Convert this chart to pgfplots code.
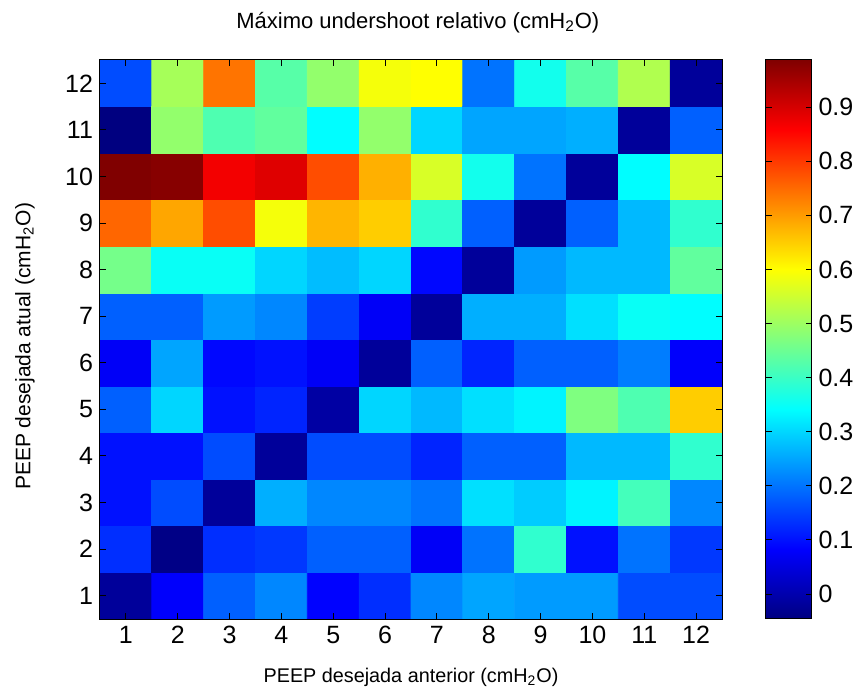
\documentclass[border=0pt]{standalone}
\usepackage{fontspec}
\setmainfont{Liberation Sans}
\usepackage{pgfplots}
\usepackage{pgfplotstable}
\pgfplotsset{compat=1.18}

\pgfplotstableread{
x y c
1 1 -0.02
2 1 0.08
3 1 0.18
4 1 0.22
5 1 0.085
6 1 0.13
7 1 0.22
8 1 0.25
9 1 0.24
10 1 0.24
11 1 0.16
12 1 0.16
1 2 0.13
2 2 -0.04
3 2 0.13
4 2 0.14
5 2 0.18
6 2 0.18
7 2 0.075
8 2 0.20
9 2 0.39
10 2 0.10
11 2 0.20
12 2 0.14
1 3 0.10
2 3 0.16
3 3 -0.02
4 3 0.26
5 3 0.22
6 3 0.22
7 3 0.20
8 3 0.31
9 3 0.29
10 3 0.33
11 3 0.41
12 3 0.22
1 4 0.10
2 4 0.10
3 4 0.16
4 4 -0.02
5 4 0.16
6 4 0.16
7 4 0.12
8 4 0.18
9 4 0.18
10 4 0.27
11 4 0.27
12 4 0.39
1 5 0.18
2 5 0.30
3 5 0.10
4 5 0.12
5 5 -0.01
6 5 0.30
7 5 0.27
8 5 0.31
9 5 0.33
10 5 0.47
11 5 0.42
12 5 0.65
1 6 0.075
2 6 0.25
3 6 0.09
4 6 0.10
5 6 0.075
6 6 -0.02
7 6 0.18
8 6 0.12
9 6 0.18
10 6 0.18
11 6 0.21
12 6 0.08
1 7 0.18
2 7 0.18
3 7 0.24
4 7 0.22
5 7 0.145
6 7 0.075
7 7 -0.02
8 7 0.26
9 7 0.26
10 7 0.31
11 7 0.35
12 7 0.34
1 8 0.46
2 8 0.35
3 8 0.35
4 8 0.30
5 8 0.275
6 8 0.30
7 8 0.09
8 8 -0.02
9 8 0.24
10 8 0.27
11 8 0.27
12 8 0.44
1 9 0.755
2 9 0.69
3 9 0.78
4 9 0.59
5 9 0.675
6 9 0.65
7 9 0.39
8 9 0.18
9 9 -0.02
10 9 0.18
11 9 0.27
12 9 0.39
1 10 0.987
2 10 0.98
3 10 0.87
4 10 0.89
5 10 0.78
6 10 0.68
7 10 0.56
8 10 0.36
9 10 0.20
10 10 -0.02
11 10 0.34
12 10 0.56
1 11 -0.046
2 11 0.49
3 11 0.42
4 11 0.44
5 11 0.34
6 11 0.49
7 11 0.30
8 11 0.25
9 11 0.25
10 11 0.26
11 11 -0.02
12 11 0.18
1 12 0.16
2 12 0.51
3 12 0.74
4 12 0.43
5 12 0.49
6 12 0.59
7 12 0.60
8 12 0.20
9 12 0.36
10 12 0.43
11 12 0.52
12 12 -0.02
}\datatable

\begin{document}
\begin{tikzpicture}
\begin{axis}[
  at={(0,0)}, anchor=south west,
  scale only axis, width=311pt, height=279.5pt,
  xmin=0.5, xmax=12.5, ymin=0.5, ymax=12.5,
  xtick={1,...,12}, ytick={1,...,12},
  enlargelimits=false,
  axis on top,
  major tick length=3pt,
  tick style={black, line width=0.5pt},
  axis line style={black, line width=0.5pt},
  /pgf/number format/assume math mode=true,
  ticklabel style={font=\fontsize{12.5}{15}\selectfont},
  colormap/jet,
  point meta min=-0.046, point meta max=0.987,
  colorbar,
  colorbar/width=23pt,
  colorbar shift/.style={xshift=21.5pt},
  colorbar style={
    scale only axis,
    height=279.5pt,
    ytick={0,0.1,0.2,0.3,0.4,0.5,0.6,0.7,0.8,0.9},
    major tick length=3pt,
    tick style={black, line width=0.5pt},
    axis line style={black, line width=0.5pt},
    /pgf/number format/assume math mode=true,
    yticklabel style={/pgf/number format/fixed, /pgf/number format/precision=1, font=\fontsize{12.5}{15}\selectfont},
  },
  title={Máximo undershoot relativo (cmH\textsubscript{2}O)},
  title style={at={(axis description cs:0.511,1.045)}, anchor=center, font=\fontsize{11}{13}\selectfont},
  xlabel={PEEP desejada anterior (cmH\textsubscript{2}O)},
  xlabel style={at={(axis description cs:0.5,-0.1038)}, anchor=center, font=\fontsize{9.9}{12}\selectfont},
  ylabel={PEEP desejada atual (cmH\textsubscript{2}O)},
  ylabel style={at={(axis description cs:-0.1206,0.4875)}, anchor=center, font=\fontsize{10.5}{12}\selectfont},
]
\addplot[matrix plot*, mesh/cols=12, point meta=explicit] table[x=x, y=y, meta=c] {\datatable};
\end{axis}
\pgfresetboundingbox
\path[use as bounding box] (-50pt,-38.5pt) rectangle (380.5pt,309.5pt);
\end{tikzpicture}
\end{document}
